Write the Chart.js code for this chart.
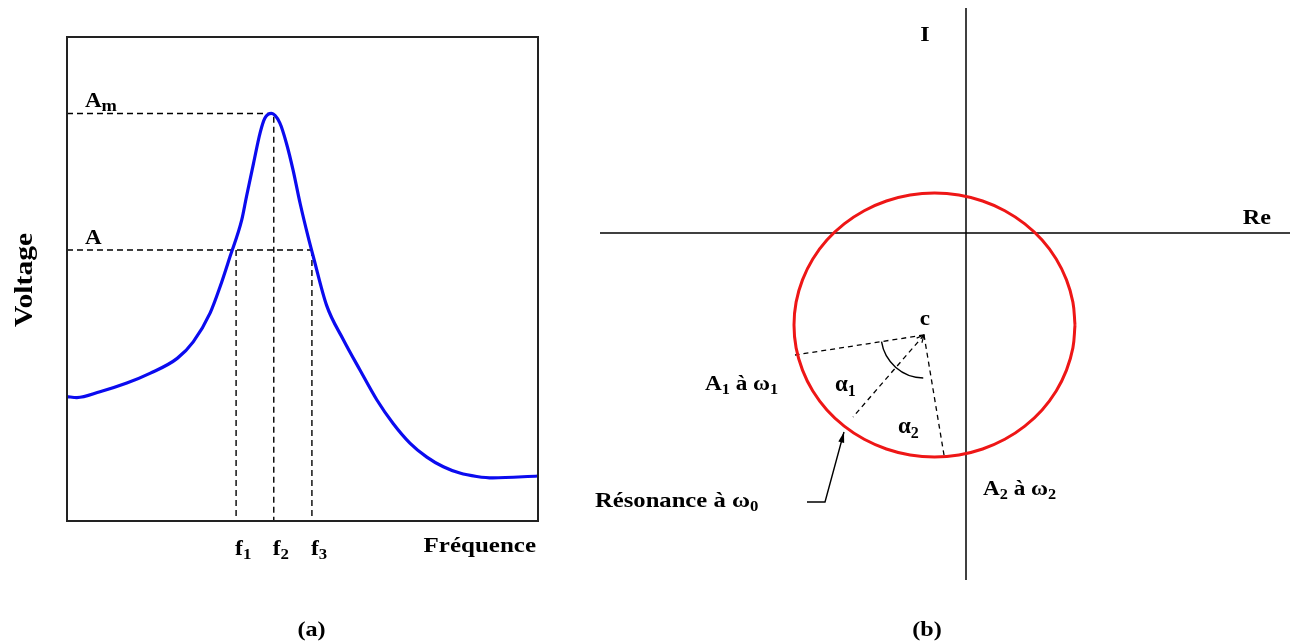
<!DOCTYPE html>
<html>
<head>
<meta charset="utf-8">
<script src="https://cdn.jsdelivr.net/npm/chart.js@4/dist/chart.umd.min.js"></script>
<style>
  html, body { margin: 0; padding: 0; background: #fff; }
  body { width: 1298px; height: 641px; position: relative; overflow: hidden; }
  canvas { position: absolute; top: 0; }
  #ca { left: 0; }
  #cb { left: 560px; }
</style>
</head>
<body>
<canvas id="ca" width="560" height="641"></canvas>
<canvas id="cb" width="738" height="641"></canvas>
<script>
// ---------- Panel (a): resonance curve (arbitrary units 0..100) ----------
const freq    = [0, 2.1, 7.0, 12.7, 17.6, 23.4, 26.8, 30.4, 32.5, 34.6, 37.1, 38.1, 39.6, 41.0, 42.0, 43.4, 45.2, 46.6, 48.0, 49.5, 51.2, 52.3, 55.1, 58.7, 62.2, 65.8, 69.2, 72.8, 76.4, 79.9, 83.4, 87.0, 90.4, 100];
const voltage = [25.7, 25.5, 26.7, 28.5, 30.5, 33.6, 37.0, 43.0, 48.4, 54.6, 62.2, 67.0, 73.9, 80.2, 83.2, 84.2, 82.2, 78.0, 72.5, 65.6, 58.7, 54.6, 44.6, 37.4, 31.2, 25.0, 20.2, 16.1, 13.2, 11.2, 9.9, 9.2, 8.9, 9.3];
const freqMarks = [35.9, 43.9, 52.0];          // f1, f2, f3
const freqMarkSubs = ['1', '2', '3'];
const levelValues = [84.2, 56.0];              // Am, A
const levelLabels = [['A', 'm'], ['A', '']];
const axisTitlesA = ['Voltage', 'Fréquence', '(a)'];

// ---------- Panel (b): complex plane (units of 10 px) ----------
const circleRe = [10.90, 10.69, 10.05, 9.02, 7.61, 5.88, 3.88, 1.66, -0.71, -3.15, -5.59, -7.96, -10.18, -12.18, -13.91, -15.32, -16.35, -16.99, -17.20, -16.99, -16.35, -15.32, -13.91, -12.18, -10.18, -7.96, -5.59, -3.15, -0.71, 1.66, 3.88, 5.88, 7.61, 9.02, 10.05, 10.69, 10.90];
const circleIm = [-9.20, -6.91, -4.69, -2.60, -0.71, 0.91, 2.23, 3.20, 3.80, 4.00, 3.80, 3.20, 2.23, 0.91, -0.71, -2.60, -4.69, -6.91, -9.20, -11.49, -13.71, -15.80, -17.69, -19.31, -20.63, -21.60, -22.20, -22.40, -22.20, -21.60, -20.63, -19.31, -17.69, -15.80, -13.71, -11.49, -9.20];
const centerC = [-4.2, -10.2];
const rayEndRe = [-17.1, -11.3, -2.2];
const rayEndIm = [-12.2, -18.4, -22.2];
const arrowRe = [-15.9, -14.1, -12.2];
const arrowIm = [-26.9, -26.9, -19.9];
const axisRangeRe = [-36.6, 32.4];
const axisRangeIm = [-34.7, 22.5];

const FONT = '"Liberation Serif", "Times New Roman", serif';

function rich(ctx, x, y, parts, size, align, stretch, subRatio) {
  stretch = stretch || 1;
  subRatio = subRatio || 0.7;
  const big = 'bold ' + size + 'px ' + FONT;
  const small = 'bold ' + Math.round(size * subRatio) + 'px ' + FONT;
  let total = 0;
  const widths = parts.map(p => { ctx.font = p[1] ? small : big; const w = ctx.measureText(p[0]).width; total += w; return w; });
  let sx = x;
  if (align === 'center') sx = x - total * stretch / 2;
  else if (align === 'right') sx = x - total * stretch;
  ctx.save();
  ctx.translate(sx, y);
  ctx.scale(stretch, 1);
  ctx.textAlign = 'left';
  ctx.textBaseline = 'alphabetic';
  let cx = 0;
  parts.forEach((p, i) => {
    ctx.font = p[1] ? small : big;
    ctx.fillText(p[0], cx, p[1] ? size * 0.2 : 0);
    cx += widths[i];
  });
  ctx.restore();
}

const dashStyle = { borderColor: '#000', borderWidth: 1.4, borderDash: [6, 4], pointRadius: 0, showLine: true, fill: false, tension: 0 };

function pts(xs, ys) { return xs.map((x, i) => ({ x: x, y: ys[i] })); }

// ----- chart (a) -----
const aDatasets = [
  { data: pts(freq, voltage), borderColor: '#0b0bef', borderWidth: 3.2, pointRadius: 0, showLine: true, cubicInterpolationMode: 'monotone', fill: false },
  Object.assign({ data: [{ x: 0, y: levelValues[0] }, { x: freqMarks[1], y: levelValues[0] }, { x: freqMarks[1], y: 0 }] }, dashStyle),
  Object.assign({ data: [{ x: 0, y: levelValues[1] }, { x: freqMarks[2], y: levelValues[1] }] }, dashStyle),
  Object.assign({ data: [{ x: freqMarks[0], y: levelValues[1] }, { x: freqMarks[0], y: 0 }] }, dashStyle),
  Object.assign({ data: [{ x: freqMarks[2], y: levelValues[1] }, { x: freqMarks[2], y: 0 }] }, dashStyle)
];

const panelAPlugin = {
  id: 'panelA',
  afterDatasetsDraw(chart) {
    const ctx = chart.ctx, ca = chart.chartArea, xs = chart.scales.x, ys = chart.scales.y;
    ctx.save();
    ctx.strokeStyle = '#222';
    ctx.lineWidth = 2;
    ctx.strokeRect(ca.left, ca.top, ca.right - ca.left, ca.bottom - ca.top);
    ctx.fillStyle = '#000';
    levelValues.forEach((v, i) => {
      rich(ctx, ca.left + 18, ys.getPixelForValue(v) - 6, [[levelLabels[i][0], false], [levelLabels[i][1], true]], 20, 'left', 1.15, 0.78);
    });
    freqMarks.forEach((f, i) => {
      rich(ctx, xs.getPixelForValue(f) - 1, ca.bottom + 34, [['f', false], [freqMarkSubs[i], true]], 21, 'left', 1.12);
    });
    rich(ctx, ca.right - 2, ca.bottom + 31, [[axisTitlesA[1], false]], 21, 'right', 1.19);
    rich(ctx, (ca.left + ca.right) / 2 + 9, ca.bottom + 115, [[axisTitlesA[2], false]], 21, 'center', 1.15);
    ctx.translate(ca.left - 41, (ca.top + ca.bottom) / 2 + 1);
    ctx.rotate(-Math.PI / 2);
    ctx.font = 'bold 25px ' + FONT;
    const w = ctx.measureText(axisTitlesA[0]).width;
    ctx.scale(94 / w, 1);
    ctx.textAlign = 'center';
    ctx.textBaseline = 'middle';
    ctx.fillText(axisTitlesA[0], 0, 0);
    ctx.restore();
  }
};

new Chart(document.getElementById('ca'), {
  type: 'scatter',
  data: { datasets: aDatasets },
  options: {
    responsive: false, animation: false, devicePixelRatio: 1,
    layout: { padding: { left: 67, top: 37, right: 22, bottom: 120 } },
    plugins: { legend: { display: false }, tooltip: { enabled: false } },
    scales: {
      x: { type: 'linear', min: 0, max: 100, display: false },
      y: { type: 'linear', min: 0, max: 100, display: false }
    }
  },
  plugins: [panelAPlugin]
});

// ----- chart (b) -----
const bDatasets = [
  { data: pts(circleRe, circleIm), borderColor: 'rgb(238,22,22)', borderWidth: 3, pointRadius: 0, showLine: true, tension: 0.4, fill: false },
  { data: [{ x: 0, y: axisRangeIm[0] }, { x: 0, y: axisRangeIm[1] }], borderColor: '#000', borderWidth: 1.5, pointRadius: 0, showLine: true },
  { data: [{ x: axisRangeRe[0], y: 0 }, { x: axisRangeRe[1], y: 0 }], borderColor: '#000', borderWidth: 1.5, pointRadius: 0, showLine: true },
  { data: pts(arrowRe, arrowIm), borderColor: '#000', borderWidth: 1.4, pointRadius: 0, showLine: true, tension: 0 }
];
rayEndRe.forEach((r, i) => {
  bDatasets.push(Object.assign({ data: [{ x: centerC[0], y: centerC[1] }, { x: r, y: rayEndIm[i] }] }, dashStyle, { borderDash: [5, 4], borderWidth: 1.3 }));
});

const panelBPlugin = {
  id: 'panelB',
  afterDatasetsDraw(chart) {
    const ctx = chart.ctx, xs = chart.scales.x, ys = chart.scales.y;
    const cx = xs.getPixelForValue(centerC[0]), cy = ys.getPixelForValue(centerC[1]);
    ctx.save();
    ctx.strokeStyle = '#000';
    ctx.fillStyle = '#000';
    // angle arc
    ctx.lineWidth = 1.4;
    ctx.beginPath();
    ctx.arc(cx, cy, xs.getPixelForValue(centerC[0] + 4.3) - cx, 91 * Math.PI / 180, 171 * Math.PI / 180, false);
    ctx.stroke();
    // open arrowhead at c on the middle ray
    const mx = xs.getPixelForValue(rayEndRe[1]), my = ys.getPixelForValue(rayEndIm[1]);
    let ang = Math.atan2(cy - my, cx - mx);
    ctx.lineWidth = 1.2;
    ctx.beginPath();
    ctx.moveTo(cx - 8 * Math.cos(ang - 0.45), cy - 8 * Math.sin(ang - 0.45));
    ctx.lineTo(cx, cy);
    ctx.lineTo(cx - 8 * Math.cos(ang + 0.45), cy - 8 * Math.sin(ang + 0.45));
    ctx.stroke();
    // filled arrowhead for resonance pointer
    const n = arrowRe.length;
    const tx = xs.getPixelForValue(arrowRe[n - 1]), ty = ys.getPixelForValue(arrowIm[n - 1]);
    const px = xs.getPixelForValue(arrowRe[n - 2]), py = ys.getPixelForValue(arrowIm[n - 2]);
    ang = Math.atan2(ty - py, tx - px);
    ctx.beginPath();
    ctx.moveTo(tx, ty);
    ctx.lineTo(tx - 11 * Math.cos(ang - 0.28), ty - 11 * Math.sin(ang - 0.28));
    ctx.lineTo(tx - 11 * Math.cos(ang + 0.28), ty - 11 * Math.sin(ang + 0.28));
    ctx.closePath();
    ctx.fill();
    // labels
    const X = v => xs.getPixelForValue(v), Y = v => ys.getPixelForValue(v);
    rich(ctx, X(-4.1), Y(19.2), [['I', false]], 22, 'center', 1.1);
    rich(ctx, X(30.5), Y(0.9), [['Re', false]], 21, 'right', 1.15);
    rich(ctx, cx + 1, cy - 10, [['c', false]], 21, 'center', 1.1);
    rich(ctx, X(-26.1), Y(-15.7), [['A', false], ['1', true], [' à ω', false], ['1', true]], 20, 'left', 1.16);
    rich(ctx, X(-13.1), Y(-15.8), [['α', false], ['1', true]], 23, 'left', 1.0);
    rich(ctx, X(-6.8), Y(-20.0), [['α', false], ['2', true]], 23, 'left', 1.0);
    rich(ctx, X(-37.1), Y(-27.4), [['Résonance à ω', false], ['0', true]], 22, 'left', 1.12);
    rich(ctx, X(1.7), Y(-26.2), [['A', false], ['2', true], [' à ω', false], ['2', true]], 20, 'left', 1.16);
    rich(ctx, X(-3.9), 636, [['(b)', false]], 21, 'center', 1.15);
    ctx.restore();
  }
};

new Chart(document.getElementById('cb'), {
  type: 'scatter',
  data: { datasets: bDatasets },
  options: {
    responsive: false, animation: false, devicePixelRatio: 1,
    layout: { padding: { left: 40, top: 8, right: 8, bottom: 61 } },
    plugins: { legend: { display: false }, tooltip: { enabled: false } },
    scales: {
      x: { type: 'linear', min: axisRangeRe[0], max: axisRangeRe[1], display: false },
      y: { type: 'linear', min: axisRangeIm[0], max: axisRangeIm[1], display: false }
    }
  },
  plugins: [panelBPlugin]
});
</script>
</body>
</html>
